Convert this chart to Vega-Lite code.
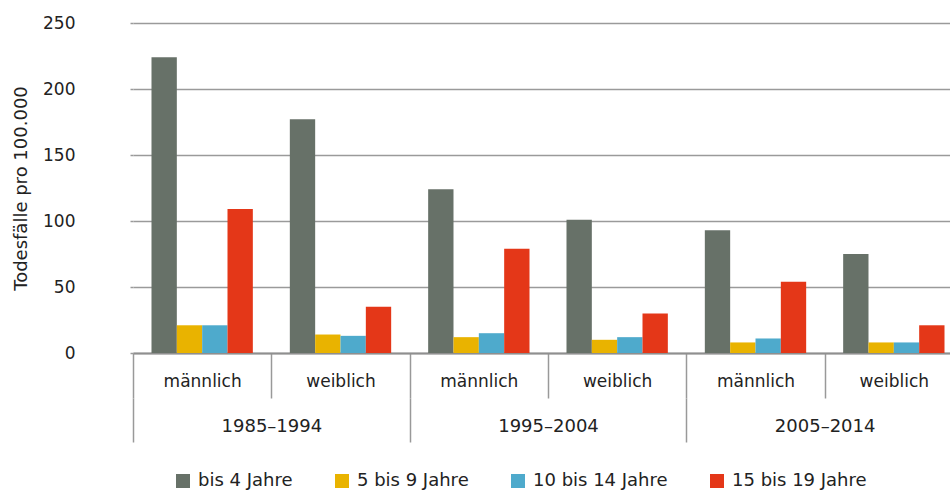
{
  "$schema": "https://vega.github.io/schema/vega-lite/v6.json",
  "width": 830,
  "height": 330,
  "autosize": {"type": "none"},
  "padding": {"left": 133, "top": 23, "right": -13, "bottom": 137},
  "background": "white",
  "config": {"view": {"stroke": null}, "font": "DejaVu Sans"},
  "data": {"values": [
    {"gruppe": "1985–1994|männlich", "periode": "1985–1994", "geschlecht": "männlich", "alter": "bis 4 Jahre", "wert": 224},
    {"gruppe": "1985–1994|männlich", "periode": "1985–1994", "geschlecht": "männlich", "alter": "5 bis 9 Jahre", "wert": 21},
    {"gruppe": "1985–1994|männlich", "periode": "1985–1994", "geschlecht": "männlich", "alter": "10 bis 14 Jahre", "wert": 21},
    {"gruppe": "1985–1994|männlich", "periode": "1985–1994", "geschlecht": "männlich", "alter": "15 bis 19 Jahre", "wert": 109},
    {"gruppe": "1985–1994|weiblich", "periode": "1985–1994", "geschlecht": "weiblich", "alter": "bis 4 Jahre", "wert": 177},
    {"gruppe": "1985–1994|weiblich", "periode": "1985–1994", "geschlecht": "weiblich", "alter": "5 bis 9 Jahre", "wert": 14},
    {"gruppe": "1985–1994|weiblich", "periode": "1985–1994", "geschlecht": "weiblich", "alter": "10 bis 14 Jahre", "wert": 13},
    {"gruppe": "1985–1994|weiblich", "periode": "1985–1994", "geschlecht": "weiblich", "alter": "15 bis 19 Jahre", "wert": 35},
    {"gruppe": "1995–2004|männlich", "periode": "1995–2004", "geschlecht": "männlich", "alter": "bis 4 Jahre", "wert": 124},
    {"gruppe": "1995–2004|männlich", "periode": "1995–2004", "geschlecht": "männlich", "alter": "5 bis 9 Jahre", "wert": 12},
    {"gruppe": "1995–2004|männlich", "periode": "1995–2004", "geschlecht": "männlich", "alter": "10 bis 14 Jahre", "wert": 15},
    {"gruppe": "1995–2004|männlich", "periode": "1995–2004", "geschlecht": "männlich", "alter": "15 bis 19 Jahre", "wert": 79},
    {"gruppe": "1995–2004|weiblich", "periode": "1995–2004", "geschlecht": "weiblich", "alter": "bis 4 Jahre", "wert": 101},
    {"gruppe": "1995–2004|weiblich", "periode": "1995–2004", "geschlecht": "weiblich", "alter": "5 bis 9 Jahre", "wert": 10},
    {"gruppe": "1995–2004|weiblich", "periode": "1995–2004", "geschlecht": "weiblich", "alter": "10 bis 14 Jahre", "wert": 12},
    {"gruppe": "1995–2004|weiblich", "periode": "1995–2004", "geschlecht": "weiblich", "alter": "15 bis 19 Jahre", "wert": 30},
    {"gruppe": "2005–2014|männlich", "periode": "2005–2014", "geschlecht": "männlich", "alter": "bis 4 Jahre", "wert": 93},
    {"gruppe": "2005–2014|männlich", "periode": "2005–2014", "geschlecht": "männlich", "alter": "5 bis 9 Jahre", "wert": 8},
    {"gruppe": "2005–2014|männlich", "periode": "2005–2014", "geschlecht": "männlich", "alter": "10 bis 14 Jahre", "wert": 11},
    {"gruppe": "2005–2014|männlich", "periode": "2005–2014", "geschlecht": "männlich", "alter": "15 bis 19 Jahre", "wert": 54},
    {"gruppe": "2005–2014|weiblich", "periode": "2005–2014", "geschlecht": "weiblich", "alter": "bis 4 Jahre", "wert": 75},
    {"gruppe": "2005–2014|weiblich", "periode": "2005–2014", "geschlecht": "weiblich", "alter": "5 bis 9 Jahre", "wert": 8},
    {"gruppe": "2005–2014|weiblich", "periode": "2005–2014", "geschlecht": "weiblich", "alter": "10 bis 14 Jahre", "wert": 8},
    {"gruppe": "2005–2014|weiblich", "periode": "2005–2014", "geschlecht": "weiblich", "alter": "15 bis 19 Jahre", "wert": 21}
  ]},
  "layer": [
    {
      "mark": {"type": "bar"},
      "encoding": {
        "x": {
          "field": "gruppe", "type": "nominal",
          "sort": ["1985–1994|männlich", "1985–1994|weiblich", "1995–2004|männlich", "1995–2004|weiblich", "2005–2014|männlich", "2005–2014|weiblich"],
          "scale": {"paddingInner": 0, "paddingOuter": 0},
          "axis": {
            "title": null, "labelExpr": "split(datum.label, '|')[1]", "labelAngle": 0,
            "labelFontSize": 17, "labelColor": "#222222", "labelPadding": -25,
            "tickBand": "extent", "tickSize": 45, "tickColor": "#999999", "tickWidth": 1.5,
            "domainColor": "#8f8f8f", "domainWidth": 2, "grid": false, "labelOverlap": false
          }
        },
        "xOffset": {
          "field": "alter", "type": "nominal",
          "sort": ["bis 4 Jahre", "5 bis 9 Jahre", "10 bis 14 Jahre", "15 bis 19 Jahre"],
          "scale": {"paddingInner": 0, "paddingOuter": 0.73}
        },
        "y": {
          "field": "wert", "type": "quantitative",
          "scale": {"domain": [0, 250]},
          "axis": {
            "title": "Todesfälle pro 100.000", "titleFontSize": 18, "titleFontWeight": "normal",
            "titleColor": "#222222", "titlePadding": 12,
            "values": [0, 50, 100, 150, 200, 250],
            "labelFontSize": 17, "labelColor": "#222222", "labelPadding": 55,
            "tickSize": 3, "tickColor": "#9a9a9a", "tickWidth": 1.5, "domain": false,
            "gridColor": "#9a9a9a", "gridWidth": 1.5
          }
        },
        "color": {
          "field": "alter", "type": "nominal",
          "scale": {
            "domain": ["bis 4 Jahre", "5 bis 9 Jahre", "10 bis 14 Jahre", "15 bis 19 Jahre"],
            "range": ["#677168", "#E9B300", "#4EAACC", "#E43718"]
          },
          "legend": {
            "title": null, "orient": "none", "legendX": 41, "legendY": 449,
            "direction": "horizontal", "columns": 4, "symbolType": "square", "symbolSize": 196,
            "symbolStrokeWidth": 0, "labelFontSize": 18, "labelColor": "#222222",
            "labelOffset": 6, "columnPadding": 40
          }
        }
      }
    },
    {
      "mark": {"type": "rule", "opacity": 0},
      "encoding": {
        "x": {
          "field": "periode", "type": "nominal",
          "sort": ["1985–1994", "1995–2004", "2005–2014"],
          "scale": {"type": "band", "paddingInner": 0, "paddingOuter": 0},
          "axis": {
            "orient": "bottom", "offset": 45, "title": null, "labelAngle": 0, "domain": false,
            "labelFontSize": 18, "labelColor": "#222222", "labelPadding": -25,
            "tickBand": "extent", "tickSize": 44, "tickColor": "#999999", "tickWidth": 1.5,
            "grid": false, "labelOverlap": false
          }
        }
      }
    }
  ],
  "resolve": {"scale": {"x": "independent"}, "axis": {"x": "independent"}}
}
